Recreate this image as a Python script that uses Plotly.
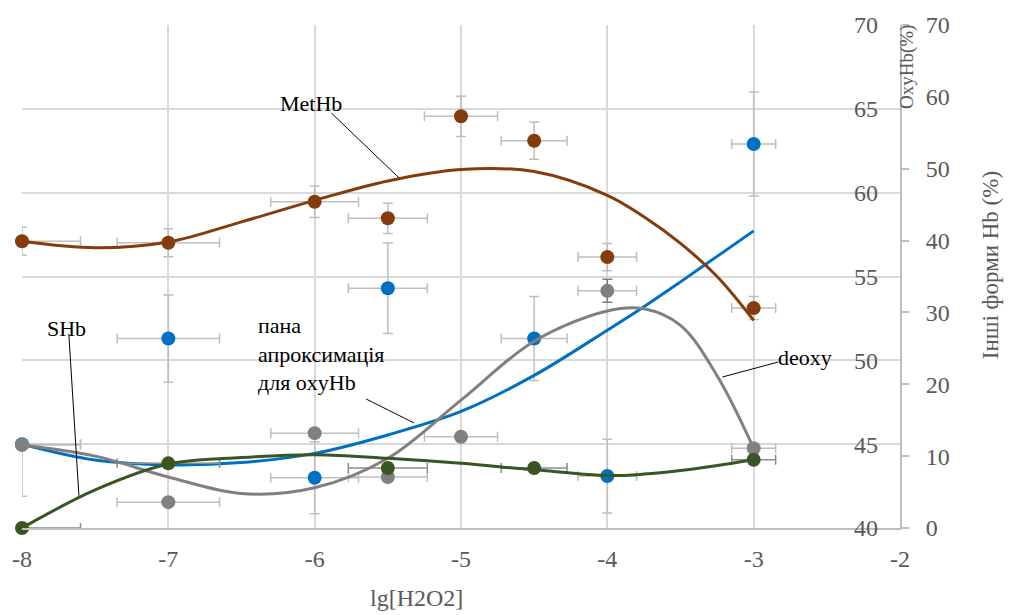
import plotly.graph_objects as go

# ---- data ----
oxy_x = [-8, -7, -6, -5.5, -4.5, -4, -3]
oxy_y = [45.0, 51.3, 43.0, 54.3, 51.3, 43.1, 62.9]
oxy_ey = [0, 2.6, 2.15, 2.7, 2.5, 2.2, 3.1]
oxy_ey_minus = [3.1, 2.6, 2.15, 2.7, 2.5, 2.2, 3.1]
oxy_ex = [0.4, 0.35, 0.3, 0.27, 0.225, 0.2, 0.15]

met_x = [-8, -7, -6, -5.5, -5, -4.5, -4, -3]
met_y = [39.9, 39.7, 45.4, 43.1, 57.3, 53.9, 37.7, 30.6]
met_ey = [1.95, 1.95, 2.2, 2.1, 2.8, 2.6, 1.9, 1.6]
met_ex = [0.4, 0.35, 0.3, 0.27, 0.25, 0.225, 0.2, 0.15]

deoxy_x = [-8, -7, -6, -5.5, -5, -4, -3]
deoxy_y = [11.55, 3.6, 13.2, 7.1, 12.7, 33.0, 11.1]
deoxy_ey = [0, 0, 0.4, 0, 0, 1.6, 0.4]
deoxy_ex = [0.4, 0.35, 0.3, 0.27, 0.25, 0.2, 0.15]

shb_x = [-8, -7, -5.5, -4.5, -3]
shb_y = [0, 9.0, 8.35, 8.35, 9.5]
shb_ex = [0.4, 0.35, 0.27, 0.225, 0.15]

# trend curves
trend_x = [-8, -7.5, -7, -6.5, -6, -5.5, -5, -4.5, -4, -3.75, -3.5, -3.25, -3]
oxy_trend = [45.0, 44.05, 43.76, 43.9, 44.45, 45.55, 46.95, 49.1, 51.8, 53.2, 54.68, 56.2, 57.72]
met_trend = [39.9, 39.0, 39.8, 42.6, 45.6, 48.3, 49.9, 49.6, 46.3, 43.3, 39.6, 35.0, 28.9]
deoxy_trend = [11.55, 10.0, 7.1, 4.8, 5.6, 9.7, 17.8, 26.0, 30.2, 30.5, 28.2, 21.2, 11.1]
shb_trend = [0.0, 5.3, 8.9, 9.8, 10.2, 9.7, 9.0, 8.1, 7.3, 7.5, 8.0, 8.7, 9.5]

x_ticks = [-8, -7, -6, -5, -4, -3, -2]

BLUE = "#0070C0"
BROWN = "#843C0C"
GRAY = "#808080"
GREEN = "#375623"
EB = "#BFBFBF"
FONT = "Liberation Serif, Times New Roman, serif"

fig = go.Figure()


def pts(x, y, color, ex, ey=None, eym=None, yaxis="y2", eyc=EB, exc=EB):
    err_y = None
    if ey is not None:
        err_y = dict(type="data", array=ey, arrayminus=eym if eym is not None else ey,
                     symmetric=False, color=eyc, thickness=1.5, width=5)
    return go.Scatter(
        x=x, y=y, mode="markers", yaxis=yaxis, cliponaxis=False,
        marker=dict(size=14, color=color),
        error_x=dict(type="data", array=ex, color=exc, thickness=1.5, width=5),
        error_y=err_y, showlegend=False, hoverinfo="skip")


fig.add_trace(pts(oxy_x, oxy_y, BLUE, oxy_ex, oxy_ey, oxy_ey_minus, yaxis="y"))
fig.add_trace(pts(met_x, met_y, BROWN, met_ex, met_ey))
fig.add_trace(pts(deoxy_x, deoxy_y, GRAY, deoxy_ex, deoxy_ey, eyc="#7F7F7F"))
fig.add_trace(pts(shb_x, shb_y, GREEN, shb_ex, exc="#8C8C8C"))

for ty, col, ax in [(oxy_trend, BLUE, "y"), (met_trend, BROWN, "y2"),
                    (deoxy_trend, GRAY, "y2"), (shb_trend, GREEN, "y2")]:
    fig.add_trace(go.Scatter(x=trend_x, y=ty, mode="lines", yaxis=ax,
                             line=dict(color=col, width=3, shape="spline", smoothing=1.0),
                             cliponaxis=False, showlegend=False, hoverinfo="skip"))

tickfont = dict(family=FONT, size=24, color="#595959")

fig.update_layout(
    width=1009, height=615,
    margin=dict(l=20, r=109, t=25, b=87),
    paper_bgcolor="white", plot_bgcolor="white",
    font=dict(family=FONT, color="#595959"),
    xaxis=dict(range=[-8, -2], tickvals=x_ticks, ticktext=[str(v) for v in x_ticks],
               showgrid=True, gridcolor="#D9D9D9", gridwidth=1.5,
               showline=True, linecolor="#BFBFBF", linewidth=2,
               ticks="", tickfont=tickfont, ticklabelstandoff=8, zeroline=False),
    yaxis=dict(range=[40, 70], dtick=5, side="left", anchor="free", position=1.0,
               showgrid=True, gridcolor="#D9D9D9", gridwidth=1.5,
               showline=False, ticks="", tickfont=tickfont, ticklabelstandoff=22,
               zeroline=False),
    yaxis2=dict(range=[0, 70], dtick=10, side="right", overlaying="y", anchor="x",
                showgrid=False, showline=True, linecolor="#BFBFBF", linewidth=2,
                ticks="outside", ticklen=7, tickwidth=1.5, tickcolor="#BFBFBF",
                tickfont=tickfont, ticklabelstandoff=12, zeroline=False),
)

ann_font = dict(family=FONT, size=22, color="black")
title_font = dict(family=FONT, size=24, color="#595959")

annotations = [
    dict(text="MetHb", x=-6.023, y=59.14, xref="x", yref="y2", showarrow=False, font=ann_font),
    dict(text="SHb", x=-7.693, y=27.83, xref="x", yref="y2", showarrow=False, font=ann_font),
    dict(text="пана<br>апроксимація<br>для oxyHb", x=-6.398, y=24.21, xref="x", yref="y2",
         xanchor="left", yanchor="middle", align="left", showarrow=False, font=ann_font),
    dict(text="deoxy", x=-2.648, y=23.66, xref="x", yref="y2", showarrow=False, font=ann_font),
    dict(text="OxyHb(%)", x=1.008, y=0.9165, xref="paper", yref="paper", textangle=-90,
         xanchor="center", yanchor="middle",
         showarrow=False, font=dict(family=FONT, size=19, color="#595959")),
    dict(text="Інші форми Hb (%)", x=1.104, y=0.523, xref="paper", yref="paper", textangle=-90,
         xanchor="center", yanchor="middle", showarrow=False,
         font=dict(family=FONT, size=23, color="#595959")),
    dict(text="lg[H2O2]", x=0.449, y=-0.139, xref="paper", yref="paper",
         xanchor="center", yanchor="middle", showarrow=False, font=title_font),
]
fig.update_layout(annotations=annotations)

leaders = [
    ((-5.886, 57.75), (-5.423, 48.71)),
    ((-7.680, 27.0), (-7.611, 4.5)),
    ((-5.648, 17.95), (-5.320, 14.61)),
    ((-2.832, 23.1), (-3.214, 21.01)),
]
for (x0, y0), (x1, y1) in leaders:
    fig.add_shape(type="line", x0=x0, y0=y0, x1=x1, y1=y1, xref="x", yref="y2",
                  line=dict(color="black", width=1))

fig.write_html("out.html")
